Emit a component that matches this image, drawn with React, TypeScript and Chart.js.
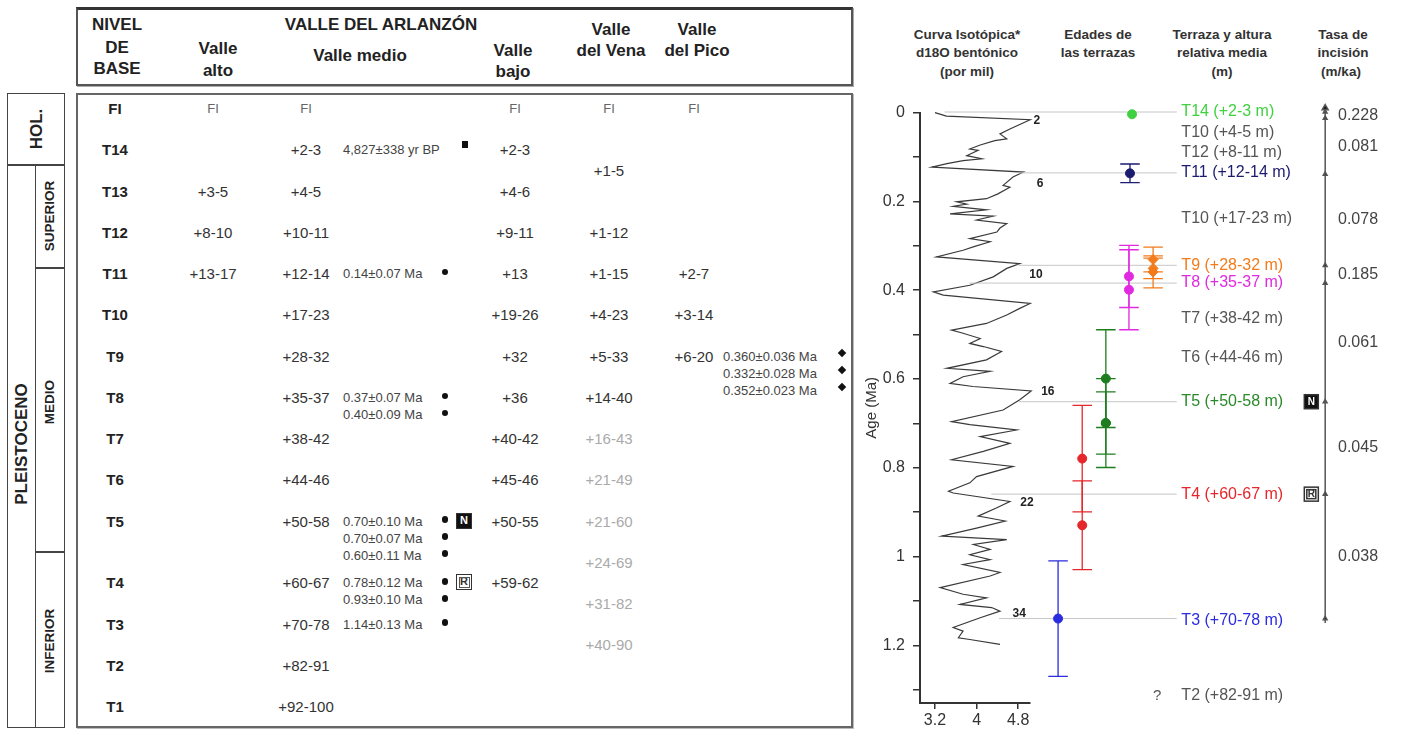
import React, { useEffect, useRef } from 'react';
import { Chart, registerables } from 'chart.js';

Chart.register(...registerables);

const FONT = '"Liberation Sans", Arial, Helvetica, sans-serif';

// ---------------- Table data ----------------
const levels = ['FI', 'T14', 'T13', 'T12', 'T11', 'T10', 'T9', 'T8', 'T7', 'T6', 'T5', 'T4', 'T3', 'T2', 'T1'];
const valleAlto = ['FI', '', '+3-5', '+8-10', '+13-17', '', '', '', '', '', '', '', '', '', ''];
const valleMedio = ['FI', '+2-3', '+4-5', '+10-11', '+12-14', '+17-23', '+28-32', '+35-37', '+38-42', '+44-46', '+50-58', '+60-67', '+70-78', '+82-91', '+92-100'];
const valleBajo = ['FI', '+2-3', '+4-6', '+9-11', '+13', '+19-26', '+32', '+36', '+40-42', '+45-46', '+50-55', '+59-62', '', '', ''];
const valleDelPico = ['FI', '', '', '', '+2-7', '+3-14', '+6-20', '', '', '', '', '', '', '', ''];
const valleDelVena = ['FI', '+1-5', '+1-12', '+1-15', '+4-23', '+5-33', '+14-40', '+16-43', '+21-49', '+21-60', '+24-69', '+31-82', '+40-90'];
const valleDelVenaSlot = [0, 1.5, 3, 4, 5, 6, 7, 8, 9, 10, 11, 12, 13];
const valleDelVenaFaded = [false, false, false, false, false, false, false, true, true, true, true, true, true];

const medioDateLevel = [1, 4, 7, 10, 11, 12];
const medioDates = [
  ['4,827±338 yr BP'],
  ['0.14±0.07 Ma'],
  ['0.37±0.07 Ma', '0.40±0.09 Ma'],
  ['0.70±0.10 Ma', '0.70±0.07 Ma', '0.60±0.11 Ma'],
  ['0.78±0.12 Ma', '0.93±0.10 Ma'],
  ['1.14±0.13 Ma'],
];
const medioDateMarker = ['square', 'dot', 'dot', 'dot', 'dot', 'dot'];
const medioPaleo = ['', '', '', 'N', 'R', ''];
const picoDateLevel = 6;
const picoDates = ['0.360±0.036 Ma', '0.332±0.028 Ma', '0.352±0.023 Ma'];

// ---------------- Chart data ----------------
const isoAge = [
  0.000, 0.008, 0.016, 0.037, 0.048, 0.059, 0.063, 0.073, 0.082, 0.085,
  0.097, 0.104, 0.108, 0.115, 0.123, 0.134, 0.145, 0.164, 0.168, 0.183,
  0.194, 0.201, 0.206, 0.211, 0.219, 0.228, 0.233, 0.242, 0.250, 0.260,
  0.269, 0.284, 0.291, 0.302, 0.310, 0.325, 0.340, 0.351, 0.370, 0.389,
  0.404, 0.411, 0.430, 0.441, 0.456, 0.475, 0.490, 0.497, 0.509, 0.520,
  0.527, 0.538, 0.557, 0.576, 0.583, 0.595, 0.610, 0.617, 0.627, 0.647,
  0.670, 0.696, 0.703, 0.715, 0.730, 0.745, 0.763, 0.782, 0.797, 0.820,
  0.834, 0.853, 0.857, 0.876, 0.890, 0.909, 0.920, 0.936, 0.954, 0.962,
  0.973, 0.984, 0.996, 1.007, 1.018, 1.036, 1.044, 1.070, 1.085, 1.093,
  1.108, 1.115, 1.123, 1.138, 1.160, 1.168, 1.183, 1.187, 1.198,
];
const isoD18O = [
  3.20, 3.42, 5.03, 4.64, 4.45, 4.58, 4.35, 4.07, 3.87, 4.03,
  3.81, 4.10, 3.74, 3.43, 3.14, 4.90, 4.70, 4.51, 4.64, 4.41,
  4.19, 3.62, 3.81, 3.55, 4.19, 3.49, 4.32, 4.00, 4.58, 4.45,
  4.39, 3.87, 4.26, 3.95, 3.74, 3.23, 4.83, 4.58, 4.32, 3.87,
  3.17, 3.36, 5.03, 4.83, 4.58, 4.19, 3.52, 3.74, 4.07, 3.87,
  4.13, 4.48, 4.19, 3.43, 4.26, 3.74, 3.49, 3.93, 5.05, 4.83,
  4.51, 3.52, 3.87, 4.77, 4.07, 4.64, 4.13, 3.52, 4.70, 4.00,
  3.87, 3.46, 3.55, 4.64, 4.39, 4.03, 4.55, 4.00, 3.33, 4.58,
  3.94, 4.26, 3.87, 4.26, 3.74, 4.45, 4.26, 3.30, 3.74, 4.19,
  3.68, 4.29, 4.45, 4.07, 3.55, 3.74, 3.65, 3.87, 4.45,
];
const isoTicks = [3.2, 4, 4.8];
const isoTickLabels = ['3.2', '4', '4.8'];
const ageTicks = [0, 0.1, 0.2, 0.3, 0.4, 0.5, 0.6, 0.7, 0.8, 0.9, 1.0, 1.1, 1.2, 1.3];
const ageTickLabels = ['0', '', '0.2', '', '0.4', '', '0.6', '', '0.8', '', '1', '', '1.2', ''];

const misLabels = ['2', '6', '10', '16', '22', '34'];
const misAge = [0.018, 0.16, 0.365, 0.628, 0.878, 1.128];
const misD18O = [5.16, 5.22, 5.14, 5.37, 4.97, 4.82];

// terrace age groups (Ma)
const ageTerrace = ['T14', 'T11', 'T8', 'T9', 'T5', 'T4', 'T3'];
const ageValues = [[0.005], [0.138], [0.37, 0.40], [0.360, 0.332, 0.352], [0.70, 0.70, 0.60], [0.78, 0.93], [1.14]];
const ageErrors = [[0], [0.021], [0.07, 0.09], [0.036, 0.028, 0.023], [0.10, 0.07, 0.11], [0.12, 0.10], [0.13]];
const ageColors = ['#3fd13f', '#1b1b70', '#e029e0', '#f27b1b', '#1e7d1e', '#e5262a', '#2b2be0'];

// correlation lines: terrace age and start on the isotope curve
const corrAge = [0.0, 0.137, 0.345, 0.385, 0.652, 0.86, 1.14];
const corrStart = [3.39, 4.83, 4.83, 3.87, 4.83, 4.30, 4.45];

const terraceLabels = ['T14 (+2-3 m)', 'T10 (+4-5 m)', 'T12 (+8-11 m)', 'T11 (+12-14 m)', 'T10 (+17-23 m)', 'T9 (+28-32 m)', 'T8 (+35-37 m)', 'T7 (+38-42 m)', 'T6 (+44-46 m)', 'T5 (+50-58 m)', 'T4 (+60-67 m)', 'T3 (+70-78 m)', 'T2 (+82-91 m)'];
const terraceLabelAges = [0.0, 0.047, 0.092, 0.137, 0.239, 0.345, 0.385, 0.466, 0.552, 0.652, 0.86, 1.145, 1.313];
const terraceLabelColors = ['#3fd13f', '#555', '#555', '#1b1b70', '#555', '#f27b1b', '#e029e0', '#555', '#555', '#2a8a2a', '#e5262a', '#2b2be0', '#555'];

const incisionBounds = [0, 0.014, 0.14, 0.345, 0.385, 0.652, 0.86, 1.14];
const incisionRates = [0.228, 0.081, 0.078, 0.185, 0.061, 0.045, 0.038];
const paleoLabels = ['N', 'R'];
const paleoAges = [0.652, 0.86];

// ---------------- Layout constants ----------------
const ISO_MIN = 2.912;
const ISO_MAX = 5.027;
const B_MAX = 12.276;
const AGE_MAX = 1.33;
const AGE_COL = [7.04, 7.0, 6.98, 7.45, 6.53, 6.07, 5.6];
const CAP = 0.19;
const LINE_END_X = 7.91;
const LABEL_X = 8.0;
const QMARK_X = 7.53;
const PALEO_X = 10.53;
const RATE_X = 10.8;
const RATE_TEXT_X = 11.05;

const ROW0 = 108;
const ROW_H = 41.25;
const slotY = (s: number) => ROW0 + s * ROW_H;
const levelSlot = (i: number) => (i <= 10 ? i : i + 0.5);
const COL = { nivel: 115, alto: 213, medio: 306, dates: 343, dot: 445, paleo: 464, bajo: 515, vena: 609, pico: 694, picoDates: 723, diamond: 842 };

// ---------------- Chart configs ----------------
const misPlugin = {
  id: 'misLabels',
  afterDatasetsDraw(chart: any) {
    const { ctx, scales } = chart;
    ctx.save();
    ctx.font = `bold 12px ${FONT}`;
    ctx.fillStyle = '#222';
    ctx.textAlign = 'center';
    ctx.textBaseline = 'middle';
    misLabels.forEach((l, i) => {
      ctx.fillText(l, scales.x.getPixelForValue(misD18O[i]), scales.y.getPixelForValue(misAge[i]));
    });
    ctx.restore();
  },
};

function isoConfig(): any {
  return {
    type: 'scatter',
    data: {
      datasets: [{
        data: isoAge.map((a, i) => ({ x: isoD18O[i], y: a })),
        showLine: true,
        borderColor: '#3a3a3a',
        borderWidth: 1.2,
        pointRadius: 0,
        clip: false,
      }],
    },
    options: {
      animation: false,
      responsive: false,
      events: [],
      layout: { padding: { top: 17, right: 377, bottom: 0, left: 0 } },
      plugins: { legend: { display: false }, tooltip: { enabled: false } },
      scales: {
        x: {
          type: 'linear', position: 'bottom', min: ISO_MIN, max: ISO_MAX,
          afterBuildTicks: (s: any) => { s.ticks = isoTicks.map((v) => ({ value: v })); },
          afterFit: (s: any) => { s.height = 28; },
          grid: { drawOnChartArea: false, tickLength: 6, color: '#333', lineWidth: 1.5 },
          border: { display: true, color: '#333', width: 2 },
          ticks: { color: '#333', font: { size: 16, family: FONT }, padding: 2, maxRotation: 0, autoSkip: false, callback: (_v: any, i: number) => isoTickLabels[i] },
        },
        y: {
          type: 'linear', position: 'left', reverse: true, min: 0, max: AGE_MAX,
          afterBuildTicks: (s: any) => { s.ticks = ageTicks.map((v) => ({ value: v })); },
          afterFit: (s: any) => { s.width = 70; },
          grid: { drawOnChartArea: false, tickLength: 7, color: '#333', lineWidth: 1.5 },
          border: { display: true, color: '#333', width: 2 },
          title: { display: true, text: 'Age (Ma)', color: '#333', font: { size: 15, family: FONT }, padding: { top: 13, bottom: 0 } },
          ticks: { color: '#333', font: { size: 16, family: FONT }, padding: 8, autoSkip: false, callback: (_v: any, i: number) => ageTickLabels[i] },
        },
      },
    },
    plugins: [misPlugin],
  };
}

const terracePlugin = {
  id: 'terraceText',
  afterDatasetsDraw(chart: any) {
    const { ctx, scales } = chart;
    const px = (v: number) => scales.x.getPixelForValue(v);
    const py = (v: number) => scales.y.getPixelForValue(v);
    ctx.save();
    ctx.textBaseline = 'middle';
    ctx.font = `16px ${FONT}`;
    ctx.textAlign = 'left';
    terraceLabels.forEach((t, i) => {
      ctx.fillStyle = terraceLabelColors[i];
      ctx.fillText(t, px(LABEL_X), py(terraceLabelAges[i]));
    });
    ctx.fillStyle = '#555';
    ctx.textAlign = 'center';
    ctx.font = `15px ${FONT}`;
    ctx.fillText('?', px(QMARK_X), py(terraceLabelAges[terraceLabelAges.length - 1]));
    ctx.font = `16px ${FONT}`;
    ctx.textAlign = 'left';
    ctx.fillStyle = '#444';
    incisionRates.forEach((r, i) => {
      const a = (incisionBounds[i] + incisionBounds[i + 1]) / 2;
      ctx.fillText(r.toFixed(3), px(RATE_TEXT_X), py(a));
    });
    paleoLabels.forEach((p, i) => {
      const cx = px(PALEO_X);
      const cy = py(paleoAges[i]);
      const filled = p === 'N';
      ctx.fillStyle = filled ? '#111' : '#fff';
      ctx.fillRect(cx - 7, cy - 7, 14, 14);
      ctx.strokeStyle = '#333';
      ctx.lineWidth = 1.5;
      ctx.strokeRect(cx - 7, cy - 7, 14, 14);
      if (!filled) ctx.strokeRect(cx - 4.5, cy - 4.5, 9, 9);
      ctx.fillStyle = filled ? '#fff' : '#333';
      ctx.font = `bold 10px ${FONT}`;
      ctx.textAlign = 'center';
      ctx.fillText(p, cx, cy + 0.5);
    });
    ctx.restore();
  },
};

function terraceConfig(): any {
  const datasets: any[] = [];
  ageValues.forEach((vals, g) => {
    const cx = AGE_COL[g];
    datasets.push({
      data: vals.map((a) => ({ x: cx, y: a })),
      pointStyle: ageTerrace[g] === 'T9' ? 'rectRot' : 'circle',
      pointRadius: ageTerrace[g] === 'T9' ? 5 : 4.5,
      backgroundColor: ageColors[g],
      borderColor: ageColors[g],
      showLine: false,
      clip: false,
      order: 0,
    });
    vals.forEach((a, k) => {
      const e = ageErrors[g][k];
      if (!e) return;
      datasets.push({
        data: [
          { x: cx - CAP, y: a - e }, { x: cx + CAP, y: a - e }, { x: cx, y: null },
          { x: cx, y: a - e }, { x: cx, y: a + e }, { x: cx, y: null },
          { x: cx - CAP, y: a + e }, { x: cx + CAP, y: a + e },
        ],
        showLine: true,
        spanGaps: false,
        borderColor: ageColors[g],
        borderWidth: 1.3,
        pointRadius: 0,
        clip: false,
        order: 1,
      });
    });
  });
  corrAge.forEach((a, i) => {
    datasets.push({
      data: [{ x: corrStart[i], y: a }, { x: LINE_END_X, y: a }],
      showLine: true,
      borderColor: '#c6c6c6',
      borderWidth: 1,
      pointRadius: 0,
      clip: false,
      order: 2,
    });
  });
  const incPts = [incisionBounds[0] - 0.009, ...incisionBounds, incisionBounds[incisionBounds.length - 1] + 0.01];
  datasets.push({
    data: incPts.map((a) => ({ x: RATE_X, y: a })),
    showLine: true,
    borderColor: '#555',
    borderWidth: 1.5,
    pointStyle: 'triangle',
    pointRadius: incPts.map((_a, i) => (i === 0 ? 3.5 : i === incPts.length - 1 ? 0 : 2.2)),
    backgroundColor: '#111',
    borderDash: [],
    clip: false,
    order: 1,
  });
  return {
    type: 'scatter',
    data: { datasets },
    options: {
      animation: false,
      responsive: false,
      events: [],
      layout: { padding: { top: 17, right: 0, bottom: 28, left: 70 } },
      plugins: { legend: { display: false }, tooltip: { enabled: false } },
      scales: {
        x: { type: 'linear', display: false, min: ISO_MIN, max: B_MAX },
        y: { type: 'linear', display: false, reverse: true, min: 0, max: AGE_MAX },
      },
    },
    plugins: [terracePlugin],
  };
}

// ---------------- HTML helpers ----------------
function Txt(props: any) {
  const { x, y, children, size = 15, bold = false, color = '#333', align = 'center', rotate = 0 } = props;
  const tx = align === 'center' ? '-50%' : align === 'right' ? '-100%' : '0';
  return (
    <div
      style={{
        position: 'absolute', left: x, top: y,
        transform: `translate(${tx},-50%)${rotate ? ` rotate(${rotate}deg)` : ''}`,
        fontSize: size, fontWeight: bold ? 700 : 400, color, whiteSpace: 'nowrap', lineHeight: 1,
      }}
    >
      {children}
    </div>
  );
}

function Box(props: any) {
  const { x, y, w, h, style } = props;
  return <div style={{ position: 'absolute', left: x, top: y, width: w, height: h, boxSizing: 'border-box', ...style }} />;
}

function Marker({ x, y, kind }: any) {
  const s = kind === 'diamond' ? 6 : 6.5;
  return (
    <div
      style={{
        position: 'absolute', left: x - s / 2, top: y - s / 2, width: s, height: s, background: '#111',
        borderRadius: kind === 'dot' ? '50%' : 0,
        transform: kind === 'diamond' ? 'rotate(45deg)' : undefined,
      }}
    />
  );
}

function Paleo({ x, y, label }: any) {
  const filled = label === 'N';
  return (
    <div
      style={{
        position: 'absolute', left: x - 8, top: y - 8, width: 16, height: 16, boxSizing: 'border-box',
        background: filled ? '#111' : '#fff', border: '1.5px solid #333',
        color: filled ? '#fff' : '#333', fontSize: 11, fontWeight: 700, lineHeight: '13px', textAlign: 'center',
      }}
    >
      <div style={{ position: 'absolute', inset: 1.5, border: filled ? 'none' : '1px solid #555' }} />
      {label}
    </div>
  );
}

function Table() {
  const items: any[] = [];
  levels.forEach((lv, i) => {
    const y = slotY(levelSlot(i));
    items.push(<Txt key={'lv' + i} x={COL.nivel} y={y} size={15} bold color="#222">{lv}</Txt>);
    const cell = (arr: string[], x: number, key: string) => {
      const v = arr[i];
      if (!v) return;
      const fi = v === 'FI';
      items.push(<Txt key={key + i} x={x} y={y} size={fi ? 13 : 15} color={fi ? '#666' : '#333'}>{v}</Txt>);
    };
    cell(valleAlto, COL.alto, 'a');
    cell(valleMedio, COL.medio, 'm');
    cell(valleBajo, COL.bajo, 'b');
    cell(valleDelPico, COL.pico, 'p');
  });
  valleDelVena.forEach((v, k) => {
    const fi = v === 'FI';
    items.push(
      <Txt key={'v' + k} x={COL.vena} y={slotY(valleDelVenaSlot[k])} size={fi ? 13 : 15} color={fi ? '#666' : valleDelVenaFaded[k] ? '#aaa' : '#333'}>{v}</Txt>,
    );
  });
  medioDates.forEach((lines, d) => {
    const y0 = slotY(levelSlot(medioDateLevel[d]));
    lines.forEach((t, k) => {
      const y = y0 + k * 17;
      items.push(<Txt key={`md${d}-${k}`} x={COL.dates} y={y} size={13} align="left" color="#444">{t}</Txt>);
      if (medioDateMarker[d] === 'square') items.push(<Marker key={`mm${d}-${k}`} x={COL.paleo + 1} y={y - 5} kind="square" />);
      else items.push(<Marker key={`mm${d}-${k}`} x={COL.dot} y={y - 1} kind="dot" />);
    });
    if (medioPaleo[d]) items.push(<Paleo key={'pal' + d} x={COL.paleo} y={y0} label={medioPaleo[d]} />);
  });
  picoDates.forEach((t, k) => {
    const y = slotY(levelSlot(picoDateLevel)) + k * 17;
    items.push(<Txt key={'pd' + k} x={COL.picoDates} y={y} size={13} align="left" color="#444">{t}</Txt>);
    items.push(<Marker key={'pm' + k} x={COL.diamond} y={y - 3} kind="diamond" />);
  });
  return <>{items}</>;
}

export default function App() {
  const isoRef = useRef<HTMLCanvasElement>(null);
  const terrRef = useRef<HTMLCanvasElement>(null);
  useEffect(() => {
    Chart.defaults.font.family = FONT;
    const a = new Chart(isoRef.current as HTMLCanvasElement, isoConfig());
    const b = new Chart(terrRef.current as HTMLCanvasElement, terraceConfig());
    return () => { a.destroy(); b.destroy(); };
  }, []);

  const hb = { color: '#222', bold: true, size: 17 };
  const ch = { color: '#333', bold: true, size: 13.5 };
  return (
    <div style={{ position: 'fixed', left: 0, top: 0, width: 1407, height: 731, overflow: 'hidden', background: '#fff', fontFamily: FONT }}>
      {/* header box */}
      <Box x={76} y={7} w={777} h={79} style={{ border: '2px solid #555', borderTop: '3px solid #333', boxShadow: '1px 1px 0 #aaa' }} />
      <Txt x={117} y={24} {...hb}>NIVEL</Txt>
      <Txt x={117} y={47} {...hb}>DE</Txt>
      <Txt x={117} y={68} {...hb}>BASE</Txt>
      <Txt x={218} y={48} {...hb}>Valle</Txt>
      <Txt x={218} y={70} {...hb}>alto</Txt>
      <Txt x={381} y={24} {...hb}>VALLE DEL ARLANZÓN</Txt>
      <Txt x={360} y={55} {...hb}>Valle medio</Txt>
      <Txt x={513} y={50} {...hb}>Valle</Txt>
      <Txt x={513} y={71} {...hb}>bajo</Txt>
      <Txt x={611} y={29} {...hb}>Valle</Txt>
      <Txt x={611} y={50} {...hb}>del Vena</Txt>
      <Txt x={697} y={29} {...hb}>Valle</Txt>
      <Txt x={697} y={50} {...hb}>del Pico</Txt>

      {/* body box */}
      <Box x={76} y={93} w={777} h={635} style={{ border: '2px solid #666', boxShadow: '1px 1px 0 #bbb' }} />

      {/* epoch column */}
      <Box x={7} y={93} w={58} h={635} style={{ border: '1.5px solid #444' }} />
      <Box x={7} y={164} w={58} h={1.5} style={{ background: '#444' }} />
      <Box x={34.5} y={165} w={1.5} h={563} style={{ background: '#444' }} />
      <Box x={35} y={267} w={30} h={1.5} style={{ background: '#444' }} />
      <Box x={35} y={551} w={30} h={1.5} style={{ background: '#444' }} />
      <Txt x={36} y={129} rotate={-90} bold size={17} color="#222">HOL.</Txt>
      <Txt x={21} y={444} rotate={-90} bold size={17} color="#222">PLEISTOCENO</Txt>
      <Txt x={50} y={216} rotate={-90} bold size={13.5} color="#222">SUPERIOR</Txt>
      <Txt x={50} y={402} rotate={-90} bold size={13.5} color="#222">MEDIO</Txt>
      <Txt x={50} y={641} rotate={-90} bold size={13.5} color="#222">INFERIOR</Txt>

      <Table />

      {/* chart headers */}
      <Txt x={967} y={35} {...ch}>Curva Isotópica*</Txt>
      <Txt x={967} y={53} {...ch}>d18O bentónico</Txt>
      <Txt x={967} y={72} {...ch}>(por mil)</Txt>
      <Txt x={1098} y={35} {...ch}>Edades de</Txt>
      <Txt x={1098} y={53} {...ch}>las terrazas</Txt>
      <Txt x={1222} y={35} {...ch}>Terraza y altura</Txt>
      <Txt x={1222} y={53} {...ch}>relativa media</Txt>
      <Txt x={1222} y={72} {...ch}>(m)</Txt>
      <Txt x={1343} y={35} {...ch}>Tasa de</Txt>
      <Txt x={1343} y={53} {...ch}>incisión</Txt>
      <Txt x={1341} y={72} {...ch}>(m/ka)</Txt>

      <canvas ref={isoRef} width={557} height={636} style={{ position: 'absolute', left: 850, top: 95 }} />
      <canvas ref={terrRef} width={557} height={636} style={{ position: 'absolute', left: 850, top: 95 }} />
    </div>
  );
}
